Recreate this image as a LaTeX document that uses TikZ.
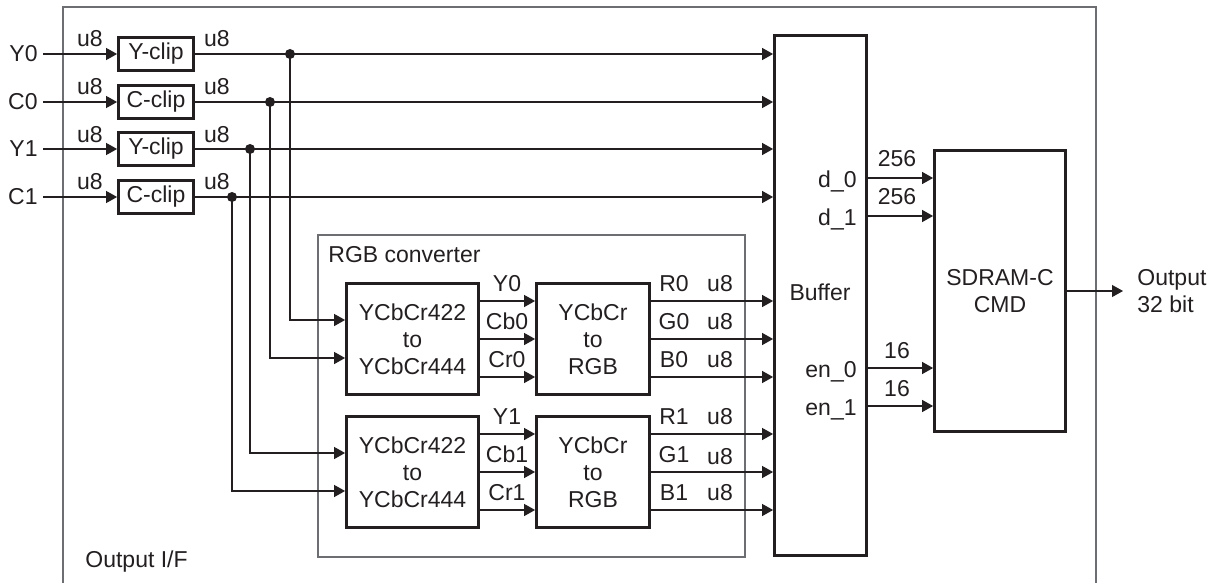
\documentclass[tikz,border=0pt]{standalone}
\usepackage{fontspec}
\setmainfont{Liberation Sans}
\usepackage{tikz}
\usetikzlibrary{arrows.meta,positioning,calc}

\definecolor{ink}{HTML}{231F20}
\definecolor{framegray}{HTML}{6D6E71}

\tikzset{
  blk/.style={draw=ink,line width=1.6pt,align=center,inner sep=0pt,text=ink},
  wire/.style={draw=ink,line width=0.55pt,-{Triangle[length=5.5pt,width=6pt]}},
  lab/.style={text=ink,inner sep=0pt},
  frameline/.style={draw=framegray,line width=0.7pt}
}

\begin{document}
\begin{tikzpicture}[x=0.5pt,y=-0.5pt,font=\fontsize{11.5}{13.5}\selectfont]
  \useasboundingbox (0,0) rectangle (1216,583);
  % outer frame and converter frame
  \draw[frameline] (63,600) |- (1096,7) -- (1096,600);
  \node[lab,anchor=base west] (iftitle) at (85,567) {Output I/F};
  \draw[frameline] (318,235) rectangle (745,557);
  \node[lab,anchor=base west] (rgbtitle) at (328,262.5) {RGB converter};

  % inputs and clip stage
  \node[lab,anchor=east,inner xsep=2.5pt] (inY0) at (43,54) {Y0};
  \node[lab,anchor=east,inner xsep=2.5pt] (inC0) at (43,102) {C0};
  \node[lab,anchor=east,inner xsep=2.5pt] (inY1) at (43,149) {Y1};
  \node[lab,anchor=east,inner xsep=2.5pt] (inC1) at (43,197) {C1};
  \node[blk,minimum width=37.3pt,minimum height=16.8pt] (yclipA) at (156,54) {Y-clip};
  \node[blk,minimum width=37.3pt,minimum height=16.8pt] (cclipA) at (156,102) {C-clip};
  \node[blk,minimum width=37.3pt,minimum height=16.8pt] (yclipB) at (156,149) {Y-clip};
  \node[blk,minimum width=37.3pt,minimum height=16.8pt] (cclipB) at (156,197) {C-clip};
  \draw[wire] (inY0) -- (yclipA);
  \draw[wire] (inC0) -- (cclipA);
  \draw[wire] (inY1) -- (yclipB);
  \draw[wire] (inC1) -- (cclipB);
  \node[lab,anchor=base] (uiA) at (90,47) {u8};
  \node[lab,anchor=base] (uiB) at (90,95) {u8};
  \node[lab,anchor=base] (uiC) at (90,142) {u8};
  \node[lab,anchor=base] (uiD) at (90,190) {u8};
  \node[lab,anchor=base] (uoA) at (217,47) {u8};
  \node[lab,anchor=base] (uoB) at (217,95) {u8};
  \node[lab,anchor=base] (uoC) at (217,142) {u8};
  \node[lab,anchor=base] (uoD) at (217,190) {u8};

  % buffer and SDRAM controller
  \node[blk,minimum width=45.8pt,minimum height=259.8pt] (buf) at (820.5,295.5) {};
  \node[lab,anchor=base] (buftxt) at (820,300) {Buffer};
  \node[blk,minimum width=65.3pt,minimum height=140.3pt] (sdram) at (1000,291) {SDRAM-C\\CMD};
  \node[lab,anchor=west,align=left,inner xsep=7pt] (outtxt) at (1123,291) {Output\\32 bit};
  \draw[wire] (sdram) -- (outtxt);

  \draw[wire] (yclipA) -- (yclipA -| buf.west);
  \draw[wire] (cclipA) -- (cclipA -| buf.west);
  \draw[wire] (yclipB) -- (yclipB -| buf.west);
  \draw[wire] (cclipB) -- (cclipB -| buf.west);

  % RGB converter
  \node[blk,minimum width=65.8pt,minimum height=55.8pt] (convA) at (412.5,339) {YCbCr422\\to\\YCbCr444};
  \node[blk,minimum width=65.8pt,minimum height=55.8pt] (convB) at (412.5,472) {YCbCr422\\to\\YCbCr444};
  \node[blk,minimum width=56.3pt,minimum height=55.8pt] (rgbA) at (593,339) {YCbCr\\to\\RGB};
  \node[blk,minimum width=56.3pt,minimum height=55.8pt] (rgbB) at (593,472) {YCbCr\\to\\RGB};

  \coordinate (jA) at (290,54);
  \coordinate (jB) at (270,102);
  \coordinate (jC) at (250,149);
  \coordinate (jD) at (232,197);
  \fill[ink] (jA) circle (2.5pt) (jB) circle (2.5pt) (jC) circle (2.5pt) (jD) circle (2.5pt);
  \draw[wire] (jA) |- ([yshift=9.5pt]convA.west);
  \draw[wire] (jB) |- ([yshift=-9.5pt]convA.west);
  \draw[wire] (jC) |- ([yshift=9.5pt]convB.west);
  \draw[wire] (jD) |- ([yshift=-9.5pt]convB.west);

  \draw[wire] ([yshift=19pt]convA.east) -- ([yshift=19pt]rgbA.west);
  \draw[wire] (convA) -- (rgbA);
  \draw[wire] ([yshift=-19pt]convA.east) -- ([yshift=-19pt]rgbA.west);
  \draw[wire] ([yshift=19pt]convB.east) -- ([yshift=19pt]rgbB.west);
  \draw[wire] (convB) -- (rgbB);
  \draw[wire] ([yshift=-19pt]convB.east) -- ([yshift=-19pt]rgbB.west);
  \node[lab,anchor=base] (lY0) at (507,291.5) {Y0};
  \node[lab,anchor=base] (lCb0) at (507,329.5) {Cb0};
  \node[lab,anchor=base] (lCr0) at (507,367.5) {Cr0};
  \node[lab,anchor=base] (lY1) at (507,424.5) {Y1};
  \node[lab,anchor=base] (lCb1) at (507,462.5) {Cb1};
  \node[lab,anchor=base] (lCr1) at (507,500.5) {Cr1};

  \draw[wire] ([yshift=19pt]rgbA.east) -- ([yshift=19pt]rgbA.east -| buf.west);
  \draw[wire] (rgbA) -- (rgbA -| buf.west);
  \draw[wire] ([yshift=-19pt]rgbA.east) -- ([yshift=-19pt]rgbA.east -| buf.west);
  \draw[wire] ([yshift=19pt]rgbB.east) -- ([yshift=19pt]rgbB.east -| buf.west);
  \draw[wire] (rgbB) -- (rgbB -| buf.west);
  \draw[wire] ([yshift=-19pt]rgbB.east) -- ([yshift=-19pt]rgbB.east -| buf.west);
  \node[lab,anchor=base] (lR0) at (674,291.5) {R0};
  \node[lab,anchor=base] (lG0) at (674,329.5) {G0};
  \node[lab,anchor=base] (lB0) at (674,367.5) {B0};
  \node[lab,anchor=base] (lR1) at (674,424.5) {R1};
  \node[lab,anchor=base] (lG1) at (674,462.5) {G1};
  \node[lab,anchor=base] (lB1) at (674,500.5) {B1};
  \node[lab,anchor=base] (uR0) at (720,291.5) {u8};
  \node[lab,anchor=base] (uG0) at (720,329.5) {u8};
  \node[lab,anchor=base] (uB0) at (720,367.5) {u8};
  \node[lab,anchor=base] (uR1) at (720,424.5) {u8};
  \node[lab,anchor=base] (uG1) at (720,464) {u8};
  \node[lab,anchor=base] (uB1) at (720,500.5) {u8};

  % buffer outputs
  \draw[wire] (buf.east |- 0,178) -- (sdram.west |- 0,178);
  \draw[wire] (buf.east |- 0,216) -- (sdram.west |- 0,216);
  \draw[wire] (buf.east |- 0,368) -- (sdram.west |- 0,368);
  \draw[wire] (buf.east |- 0,406) -- (sdram.west |- 0,406);
  \node[lab,anchor=base east] (ld0) at (857,187) {d\_0};
  \node[lab,anchor=base east] (ld1) at (857,225) {d\_1};
  \node[lab,anchor=base east] (le0) at (857,377) {en\_0};
  \node[lab,anchor=base east] (le1) at (857,415) {en\_1};
  \node[lab,anchor=base] (wd0) at (897,167) {256};
  \node[lab,anchor=base] (wd1) at (897,205) {256};
  \node[lab,anchor=base] (we0) at (897,358) {16};
  \node[lab,anchor=base] (we1) at (897,396) {16};
\end{tikzpicture}
\end{document}
